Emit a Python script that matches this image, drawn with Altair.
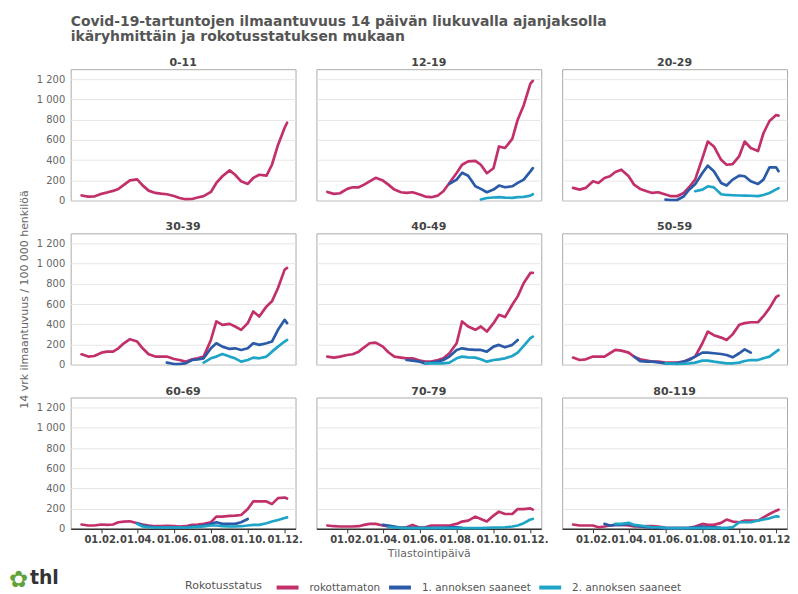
import altair as alt
import pandas as pd

N = None

DATES = ["2020-12-30", "2021-01-10", "2021-01-20", "2021-02-01", "2021-02-10", "2021-02-20",
         "2021-03-01", "2021-03-10", "2021-03-20", "2021-04-01", "2021-04-10", "2021-04-20",
         "2021-05-01", "2021-05-10", "2021-05-20", "2021-06-01", "2021-06-10", "2021-06-20",
         "2021-07-01", "2021-07-10", "2021-07-20", "2021-08-01", "2021-08-10", "2021-08-20",
         "2021-09-01", "2021-09-10", "2021-09-20", "2021-10-01", "2021-10-10", "2021-10-20",
         "2021-11-01", "2021-11-10", "2021-11-20", "2021-12-01", "2021-12-05"]

GROUPS = ["0-11", "12-19", "20-29", "30-39", "40-49", "50-59", "60-69", "70-79", "80-119"]
STATUS = ["rokottamaton", "1. annoksen saaneet", "2. annoksen saaneet"]
COLORS = ["#c2306b", "#2a5aa8", "#1ea4c6"]

# rokottamaton
UNVAX_0_11 = [50, 38, 40, 66, 80, 95, 115, 155, 200, 210, 150, 98, 75, 68, 62, 45, 25, 13, 15, 30, 43, 85, 174, 240, 298, 255, 190, 164, 223, 255, 246, 354, 550, 720, 770]
UNVAX_12_19 = [85, 66, 72, 115, 131, 131, 157, 190, 225, 197, 157, 108, 82, 75, 82, 59, 39, 33, 49, 92, 174, 272, 354, 387, 393, 354, 270, 320, 535, 520, 610, 800, 944, 1157, 1185]
UNVAX_20_29 = [125, 108, 125, 190, 174, 223, 240, 282, 305, 240, 157, 115, 92, 75, 82, 59, 43, 43, 75, 131, 207, 420, 584, 535, 403, 354, 360, 440, 584, 520, 490, 666, 787, 846, 840]
UNVAX_30_39 = [103, 80, 86, 119, 129, 129, 162, 212, 252, 229, 162, 103, 80, 80, 80, 56, 46, 30, 53, 63, 80, 245, 428, 394, 404, 378, 345, 411, 527, 477, 577, 627, 759, 941, 958]
UNVAX_40_49 = [80, 70, 80, 96, 103, 129, 172, 212, 219, 179, 123, 80, 70, 63, 63, 40, 30, 30, 46, 63, 113, 212, 428, 378, 345, 378, 328, 411, 494, 471, 593, 676, 809, 908, 908]
UNVAX_50_59 = [70, 46, 53, 80, 80, 80, 113, 146, 139, 119, 80, 53, 40, 30, 30, 20, 20, 20, 30, 53, 80, 212, 328, 292, 268, 245, 300, 395, 411, 420, 420, 480, 560, 670, 683]
UNVAX_60_69 = [43, 33, 33, 43, 39, 43, 65, 72, 75, 56, 43, 33, 26, 26, 29, 26, 23, 26, 39, 43, 49, 65, 121, 121, 128, 131, 137, 196, 271, 271, 271, 245, 304, 310, 300]
UNVAX_70_79 = [33, 26, 23, 23, 23, 26, 39, 49, 49, 33, 23, 16, 10, 16, 39, 10, 16, 33, 33, 33, 33, 49, 72, 82, 121, 98, 72, 131, 170, 147, 147, 196, 196, 203, 190]
UNVAX_80_119 = [43, 33, 33, 33, 16, 23, 33, 39, 39, 33, 23, 23, 26, 26, 23, 10, 7, 7, 7, 10, 23, 49, 39, 39, 59, 92, 72, 65, 82, 82, 82, 114, 147, 180, 190]

# 1. annoksen saaneet
DOSE1_0_11 = [N] * 35
DOSE1_12_19 = [N] * 20 + [164, 207, 275, 245, 141, 115, 82, 108, 148, 131, 141, 174, 207, 289, 321]
DOSE1_20_29 = [N] * 15 + [8, 5, 5, 40, 108, 160, 272, 345, 290, 174, 148, 207, 246, 240, 190, 164, 207, 328, 328, 290]
DOSE1_30_39 = [N] * 14 + [20, 7, 7, 13, 46, 53, 63, 162, 212, 179, 156, 162, 146, 162, 212, 196, 212, 229, 345, 444, 411]
DOSE1_40_49 = [N] * 13 + [46, 40, 30, 13, 20, 30, 46, 80, 146, 162, 152, 146, 146, 129, 179, 196, 172, 196, 245, N, N, N]
DOSE1_50_59 = [N] * 10 + [80, 36, 30, 30, 23, 13, 13, 13, 30, 46, 80, 119, 119, 113, 106, 96, 73, 113, 152, 119, N, N, N, N, N]
DOSE1_60_69 = [N] * 9 + [56, 33, 23, 16, 16, 16, 13, 13, 16, 23, 26, 33, 49, 65, 49, 49, 49, 65, 98] + [N] * 7
DOSE1_70_79 = [N] * 9 + [39, 33, 23, 10, 10, 10, 10, 10, 10, 10, 10, 16, 16, 10] + [N] * 12
DOSE1_80_119 = [N] * 5 + [49, 33, 39, 39, 49, 33, 23, 16, 13, 10, 7, 7, 7, 7, 10, 16, 23, 16, 16, 10, 7, 13] + [N] * 8

# 2. annoksen saaneet
DOSE2_0_11 = [N] * 35
DOSE2_12_19 = [N] * 25 + [10, 25, 30, 33, 28, 27, 33, 36, 48, 62]
DOSE2_20_29 = [N] * 20 + [92, 108, 141, 130, 62, 55, 52, 50, 49, 47, 43, 55, 75, 110, 122]
DOSE2_30_39 = [N] * 20 + [20, 63, 80, 106, 80, 63, 30, 46, 70, 63, 80, 129, 179, 229, 245]
DOSE2_40_49 = [N] * 16 + [13, 13, 13, 13, 20, 63, 80, 73, 70, 53, 30, 46, 53, 63, 86, 119, 186, 262, 278]
DOSE2_50_59 = [N] * 15 + [13, 10, 7, 10, 13, 20, 40, 40, 30, 20, 13, 13, 20, 36, 46, 46, 63, 80, 129, 146]
DOSE2_60_69 = [N] * 9 + [49, 23, 16, 13, 13, 13, 13, 13, 13, 16, 20, 25, 33, 33, 26, 23, 23, 26, 33, 39, 39, 56, 72, 88, 108, 114]
DOSE2_70_79 = [N] * 10 + [16, 13, 10, 8, 7, 7, 7, 7, 7, 7, 7, 7, 7, 7, 7, 7, 10, 13, 13, 16, 23, 33, 56, 92, 98]
DOSE2_80_119 = [N] * 7 + [49, 49, 59, 39, 33, 23, 16, 16, 10, 7, 7, 7, 7, 7, 7, 10, 7, 7, 7, 16, 65, 65, 65, 82, 92, 104, 124, 121]

SERIES = {
    "0-11": [UNVAX_0_11, DOSE1_0_11, DOSE2_0_11],
    "12-19": [UNVAX_12_19, DOSE1_12_19, DOSE2_12_19],
    "20-29": [UNVAX_20_29, DOSE1_20_29, DOSE2_20_29],
    "30-39": [UNVAX_30_39, DOSE1_30_39, DOSE2_30_39],
    "40-49": [UNVAX_40_49, DOSE1_40_49, DOSE2_40_49],
    "50-59": [UNVAX_50_59, DOSE1_50_59, DOSE2_50_59],
    "60-69": [UNVAX_60_69, DOSE1_60_69, DOSE2_60_69],
    "70-79": [UNVAX_70_79, DOSE1_70_79, DOSE2_70_79],
    "80-119": [UNVAX_80_119, DOSE1_80_119, DOSE2_80_119],
}

Y_TICKS = [0, 200, 400, 600, 800, 1000, 1200]
X_TICK_MONTHS = [2, 4, 6, 8, 10, 12]
Y_TITLE = "14 vrk ilmaantuvuus / 100 000 henkilöä"
X_TITLE = "Tilastointipäivä"
TITLE = ["Covid-19-tartuntojen ilmaantuvuus 14 päivän liukuvalla ajanjaksolla",
         "ikäryhmittäin ja rokotusstatuksen mukaan"]

rows = []
for g in GROUPS:
    for s, vals in zip(STATUS, SERIES[g]):
        for d, v in zip(DATES, vals):
            if v is not None:
                rows.append({"group": g, "status": s, "date": d, "value": v})
df = pd.DataFrame(rows)

W, H = 226, 132

x_scale = alt.Scale(type="utc",
                    domain=[alt.DateTime(year=2020, month=12, date=12, utc=True),
                            alt.DateTime(year=2021, month=12, date=19, utc=True)])
y_scale = alt.Scale(domain=[0, 1300], nice=False)
color_scale = alt.Scale(domain=STATUS, range=COLORS)
legend = alt.Legend(orient="none", legendX=115, legendY=508, direction="horizontal",
                    titleOrient="left", symbolType="stroke", symbolStrokeWidth=4,
                    symbolSize=484, labelFontSize=10.5, titleFontSize=11,
                    titleFontWeight="normal", titleColor="#555", labelColor="#555",
                    titleBaseline="middle", labelBaseline="middle",
                    columnPadding=0, titlePadding=12, labelOffset=9, symbolOffset=0)


def panel(g, r, c):
    sub = df[df.group == g]
    yk = dict(values=Y_TICKS, labels=(c == 0), ticks=False, domain=False, grid=True,
              gridColor="#e6e6e6", labelFontSize=10, labelColor="#666", labelPadding=6,
              labelExpr="replace(format(datum.value, ','), ',', ' ')",
              titleFontSize=11, titleFontWeight="normal", titleColor="#666", titlePadding=7)
    yk["title"] = Y_TITLE if (c == 0 and r == 1) else ""
    if r == 2:
        xk = dict(values=[alt.DateTime(year=2021, month=m, date=1, utc=True) for m in X_TICK_MONTHS],
                  format="%d.%m.", labelFontWeight="bold", labelFontSize=10, labelColor="#444",
                  domainColor="#333", domainWidth=1.5, tickColor="#333", tickSize=4,
                  grid=False, labelPadding=2, labelOverlap=False, labelFlush=False,
                  titleFontSize=11, titleFontWeight="normal", titleColor="#666", titlePadding=3)
        xk["title"] = X_TITLE if c == 1 else ""
        xenc = alt.X("date:T", scale=x_scale, axis=alt.Axis(**xk))
    else:
        xenc = alt.X("date:T", scale=x_scale, axis=None)
    lines = alt.Chart(sub).mark_line(strokeWidth=2.7, strokeJoin="round", strokeCap="round").encode(
        x=xenc,
        y=alt.Y("value:Q", scale=y_scale, axis=alt.Axis(**yk)),
        color=alt.Color("status:N", scale=color_scale, legend=legend, title="Rokotusstatus"),
        detail="status:N",
    )
    lab = pd.DataFrame({"t": [g]})
    head = alt.Chart(lab).mark_text(fontSize=11, fontWeight="bold", color="#444",
                                    baseline="alphabetic", align="center").encode(
        x=alt.value(W / 2), y=alt.value(-3), text="t:N")
    layers = [lines, head]
    if r == 2 and c == 0:
        logo = pd.DataFrame({"t": ["thl"]})
        flower = alt.Chart(logo).mark_text(text="✿", color="#5fa33a", fontSize=23, align="left",
                                           baseline="middle").encode(
            x=alt.value(-62), y=alt.value(183))
        word = alt.Chart(logo).mark_text(color="#333", fontSize=19, fontWeight="bold",
                                         align="left", baseline="middle").encode(
            x=alt.value(-41), y=alt.value(181), text="t:N")
        layers += [flower, word]
    return alt.layer(*layers).properties(width=W, height=H)


panels = [panel(GROUPS[r * 3 + c], r, c) for r in range(3) for c in range(3)]

chart = alt.concat(*panels, columns=3, spacing=alt.RowColnumber(row=33, column=21),
                   bounds="flush").properties(
    title=alt.TitleParams(TITLE, anchor="start", frame="group", fontSize=14, fontWeight="bold",
                          color="#555", lineHeight=15, offset=13),
    padding={"left": 0, "top": 5, "right": -5, "bottom": 0},
).configure(font="DejaVu Sans").configure_view(stroke="#aaaaaa", strokeWidth=1)

chart.save("out.html", embed_options={"renderer": "svg", "actions": False})
